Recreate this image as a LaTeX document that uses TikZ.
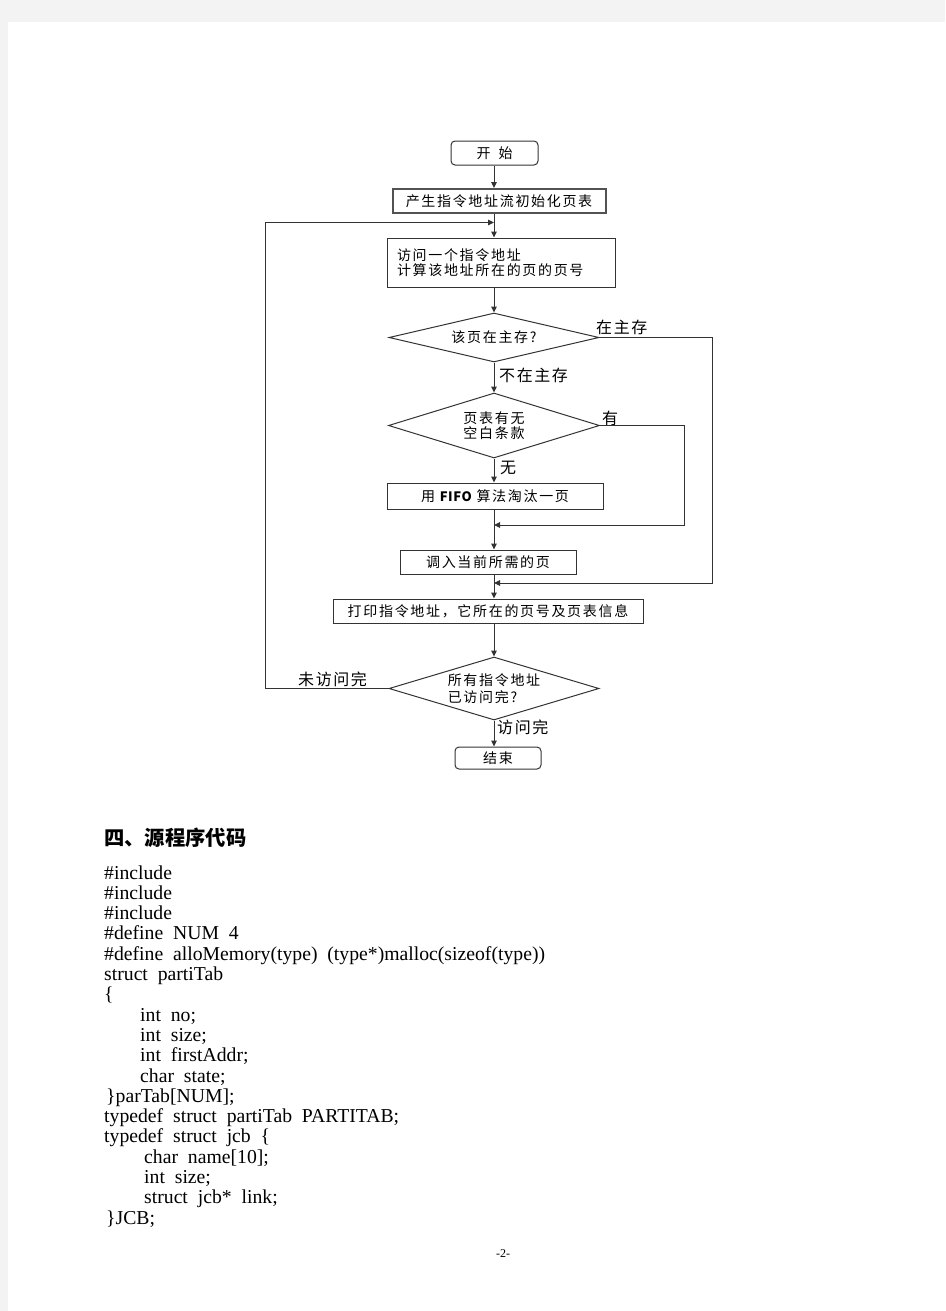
\documentclass[tikz,border=0pt]{standalone}
\usepackage{fontspec}
\setmainfont{Liberation Serif}
\newfontfamily\cjk{Noto Sans CJK SC}[LetterSpace=12]
\newfontfamily\cjklat{Noto Sans CJK SC}[LetterSpace=4]
\newfontfamily\cjklab{Noto Sans CJK SC}[LetterSpace=10]
\newfontfamily\cjkhead{Noto Sans CJK SC}
\newfontfamily\codefont{Liberation Serif}[WordSpace=2]
\usetikzlibrary{arrows.meta,shapes.geometric}
\definecolor{pagebg}{HTML}{F3F3F3}
\definecolor{linec}{HTML}{333333}
\tikzset{
  box/.style={draw=linec, line width=1pt, inner sep=0pt, font=\cjk\fontsize{14}{15}\selectfont},
  term/.style={box, rounded corners=4pt},
  dia/.style={draw=linec, line width=1pt, diamond, inner sep=0pt, shape aspect=4, align=center, font=\cjk\fontsize{14}{15}\selectfont},
  arr/.style={draw=linec, line width=1pt, -{Triangle[length=6pt,width=5.5pt]}},
  lab/.style={anchor=west, inner sep=0pt, font=\cjklab\fontsize{16}{18}\selectfont},
  code/.style={anchor=base west, inner sep=0pt, font=\codefont\fontsize{19.7}{20}\selectfont}
}
\begin{document}
\begin{tikzpicture}[x=1pt,y=-1pt]
\useasboundingbox (0,0) rectangle (945,1311);
\fill[pagebg] (0,0) rectangle (945,1311);
\fill[white] (8,22) rectangle (945,1311);

% axis and junction coordinates
\coordinate (ax) at (494,0);
\coordinate (r1) at (712,0);
\coordinate (r2) at (684,0);
\coordinate (l1) at (265,0);
\coordinate (j0) at (494,222.5);
\coordinate (j1) at (494,525);
\coordinate (j2) at (494,583);

% nodes
\node[term, minimum width=87pt, minimum height=24pt] (start) at (494.5,153) {开\hspace{8pt}始};
\node[box, line width=2pt, draw=linec!85, minimum width=213pt, minimum height=24pt] (init) at (499,201) {产生指令地址流初始化页表};
\node[box, minimum width=228pt, minimum height=49pt, text width=208pt, align=left] (visit) at (501,262.5) {访问一个指令地址\\计算该地址所在的页的页号};
\node[dia, minimum width=210pt, minimum height=49pt] (d1) at (494,337.5) {该页在主存?};
\node[dia, minimum width=211pt, minimum height=65pt] (d2) at (494,425.5) {页表有无\\空白条款};
\node[box, minimum width=216pt, minimum height=26pt] (fifo) at (495,496) {用 {\cjklat\fontsize{13}{15}\selectfont\bfseries FIFO} 算法淘汰一页};
\node[box, minimum width=176pt, minimum height=24pt] (load) at (488,562) {调入当前所需的页};
\node[box, minimum width=310pt, minimum height=24pt] (print) at (488,611) {打印指令地址，它所在的页号及页表信息};
\node[dia, shape aspect=3, align=left, minimum width=210pt, minimum height=63pt, font=\cjk\fontsize{14}{17}\selectfont] (d3) at (494,688.5) {所有指令地址\\已访问完?};
\node[term, minimum width=86pt, minimum height=22pt] (end) at (498,758) {结束};

% labels
\node[lab] (lzai) at (596,327) {在主存};
\node[lab] (lbuzai) at (499,375) {不在主存};
\node[lab] (lyou) at (602,418) {有};
\node[lab] (lwu) at (500,468) {无};
\node[lab] (lwei) at (298,679) {未访问完};
\node[lab] (lwan) at (497,727) {访问完};

% connectors
\draw[arr] (start.south -| ax) -- (init.north -| ax);
\draw[arr] (init.south -| ax) -- (visit.north -| ax);
\draw[arr] (visit.south -| ax) -- (d1.north);
\draw[arr] (d1.south) -- (d2.north);
\draw[arr] (d2.south) -- (fifo.north -| ax);
\draw[arr] (fifo.south -| ax) -- (load.north -| ax);
\draw[arr] (load.south -| ax) -- (print.north -| ax);
\draw[arr] (print.south -| ax) -- (d3.north);
\draw[arr] (d3.south) -- (end.north -| ax);
\draw[arr] (d1.east) -- (d1.east -| r1) |- (j2);
\draw[arr] (d2.east) -- (d2.east -| r2) |- (j1);
\draw[arr] (d3.west) -- (d3.west -| l1) |- (j0);

% heading and code
\node[anchor=west, inner sep=0pt, font=\cjkhead\bfseries\fontsize{20.3}{22}\selectfont] (head) at (104,838) {四、源程序代码};
\node[code] (c1) at (104,879) {\#include};
\node[code] (c2) at (104,899.3) {\#include};
\node[code] (c3) at (104,919.6) {\#include};
\node[code] (c4) at (104,939.9) {\#define NUM 4};
\node[code] (c5) at (104,960.2) {\#define alloMemory(type) (type*)malloc(sizeof(type))};
\node[code] (c6) at (104,980.5) {struct partiTab};
\node[code] (c7) at (104,1000.8) {\{};
\node[code] (c8) at (140,1021.1) {int no;};
\node[code] (c9) at (140,1041.4) {int size;};
\node[code] (c10) at (140,1061.7) {int firstAddr;};
\node[code] (c11) at (140,1082) {char state;};
\node[code] (c12) at (106,1102.3) {\}parTab[NUM];};
\node[code] (c13) at (104,1122.6) {typedef struct partiTab PARTITAB;};
\node[code] (c14) at (104,1142.9) {typedef struct jcb \{};
\node[code] (c15) at (144,1163.2) {char name[10];};
\node[code] (c16) at (144,1183.5) {int size;};
\node[code] (c17) at (144,1203.8) {struct jcb* link;};
\node[code] (c18) at (106,1224.1) {\}JCB;};
\node[inner sep=0pt, font=\fontsize{12}{14}\selectfont] (pnum) at (503,1254) {-2-};
\end{tikzpicture}
\end{document}
